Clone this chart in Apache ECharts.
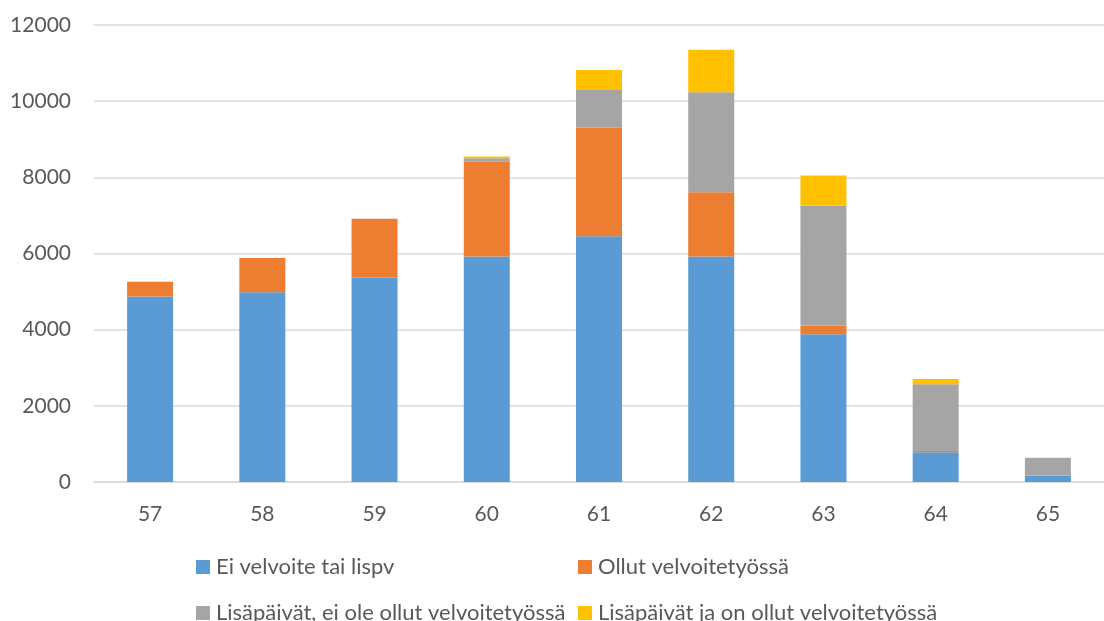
<!DOCTYPE html>
<html>
<head>
<meta charset="utf-8">
<script src="https://cdn.jsdelivr.net/npm/echarts@6/dist/echarts.min.js"></script>
<style>html,body{margin:0;padding:0;background:#fff;}#c{width:1104px;height:621px;}</style>
</head>
<body>
<div id="c"></div>
<script>
const categories = ['57','58','59','60','61','62','63','64','65'];
const eiVelvoite = [4870, 4980, 5370, 5920, 6450, 5920, 3880, 780, 166];
const olluVelvoite = [390, 900, 1540, 2490, 2855, 1690, 227, 35, 5];
const lisaEiOle = [0, 0, 0, 90, 990, 2625, 3150, 1750, 456];
const lisaOnOllut = [0, 0, 0, 45, 525, 1112, 790, 140, 12];
const yTicks = [0, 2000, 4000, 6000, 8000, 10000, 12000];
const names = ['Ei velvoite tai lispv','Ollut velvoitetyössä','Lisäpäivät, ei ole ollut velvoitetyössä','Lisäpäivät ja on ollut velvoitetyössä'];
const colors = ['#5b9bd5','#ed7d31','#a5a5a5','#ffc000'];

const chart = echarts.init(document.getElementById('c'));
const font = 'Lato';
const legendPos = [[196, 556], [578, 556], [196, 602], [578, 602]];
const legends = names.map((n, i) => ({
  left: legendPos[i][0], top: legendPos[i][1], data: [n], padding: 0,
  orient: 'horizontal', itemWidth: 14, itemHeight: 14, icon: 'rect',
  textStyle: { fontFamily: font, fontSize: 22, color: '#595959', padding: [0,0,0,1] }
}));
chart.setOption({
  animation: false,
  color: colors,
  textStyle: { fontFamily: font },
  grid: { left: 94, top: 25, width: 1022, height: 457, containLabel: false },
  legend: legends,
  xAxis: {
    type: 'category', data: categories,
    axisLine: { lineStyle: { color: '#d9d9d9', width: 1.5 } },
    axisTick: { show: false },
    axisLabel: { color: '#595959', fontSize: 21, margin: 22, fontFamily: font }
  },
  yAxis: {
    type: 'value', min: yTicks[0], max: yTicks[yTicks.length-1], interval: 2000,
    axisLine: { show: false }, axisTick: { show: false },
    splitLine: { lineStyle: { color: '#d9d9d9', width: 1.5 } },
    axisLabel: { color: '#595959', fontSize: 21, margin: 23, fontFamily: font, formatter: v => String(v) }
  },
  series: [eiVelvoite, olluVelvoite, lisaEiOle, lisaOnOllut].map((d, i) => ({
    name: names[i], type: 'bar', stack: 'total', data: d, barWidth: 46,
    itemStyle: { color: colors[i] }
  }))
});
</script>
</body>
</html>
